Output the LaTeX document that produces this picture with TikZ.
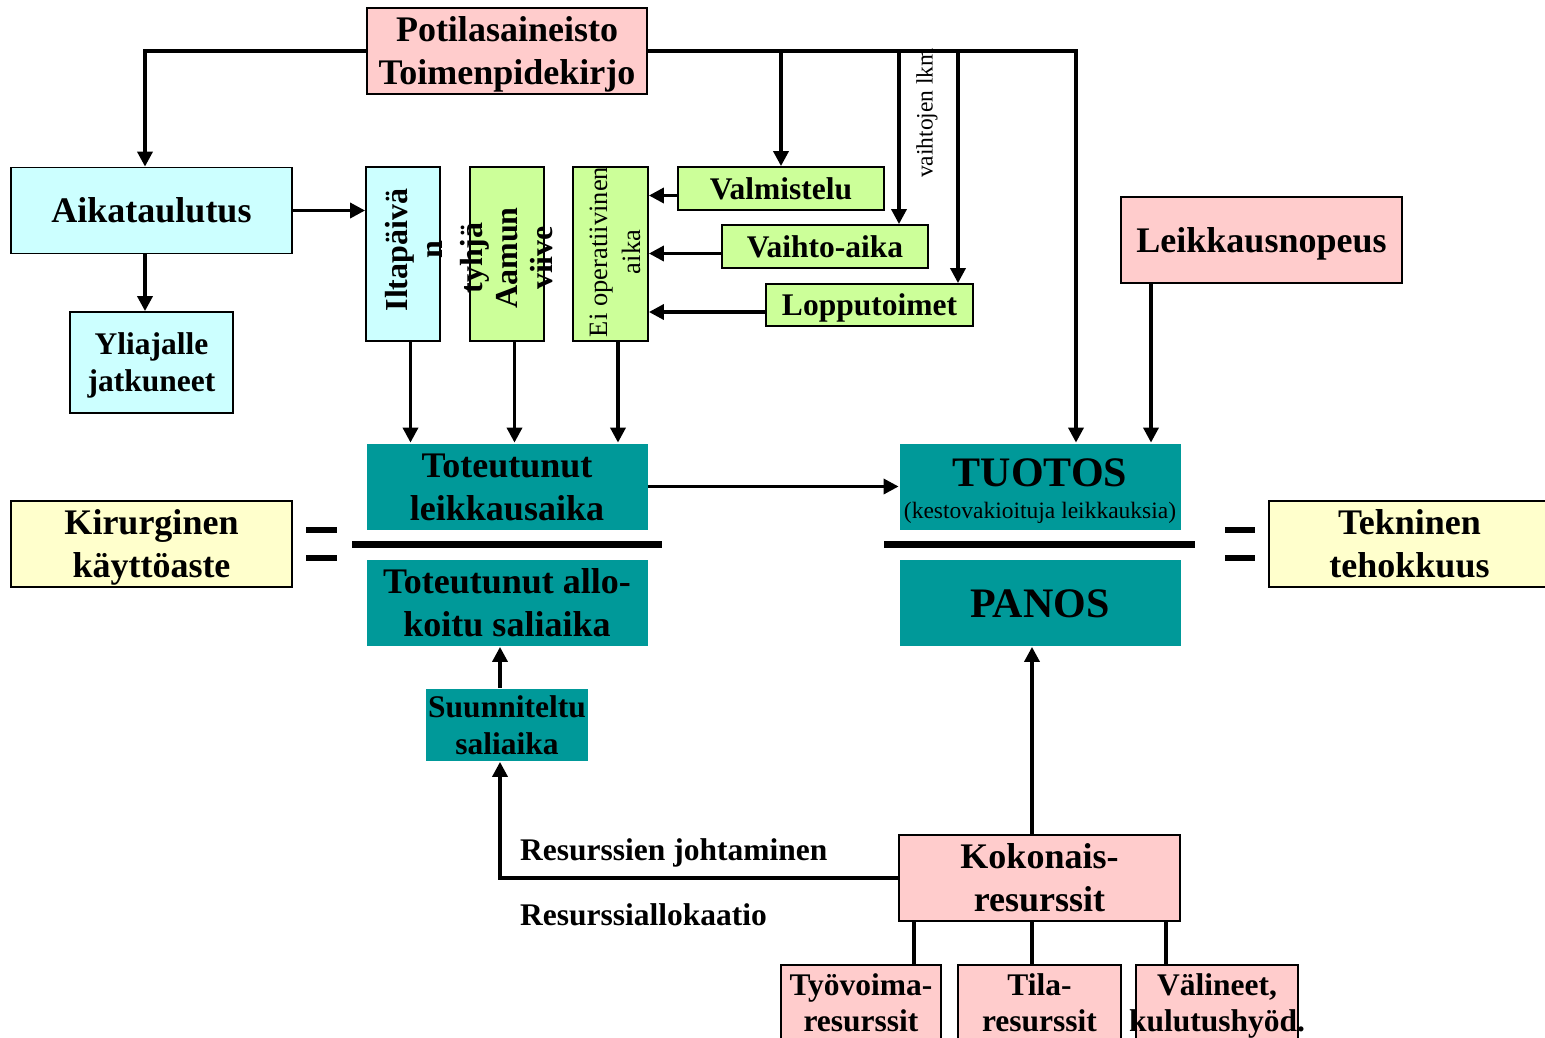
\documentclass[tikz,border=0pt]{standalone}
\usepackage{fontspec}
\setmainfont{Liberation Serif}
\usetikzlibrary{arrows.meta}
\definecolor{pinkfill}{HTML}{FFCCCC}
\definecolor{cyanfill}{HTML}{CCFFFF}
\definecolor{greenfill}{HTML}{CCFF99}
\definecolor{yellowfill}{HTML}{FFFFCC}
\definecolor{tealfill}{HTML}{009999}
% strut with the ascent and descent of the font
\newcommand\fs{\rule[-0.216em]{0pt}{1.107em}}
\begin{document}
\begin{tikzpicture}[x=1pt, y=-1pt,
  box/.style={draw=black, line width=1.8pt, inner sep=0pt, align=center,
    font=\bfseries\fontsize{36}{43}\selectfont},
  big/.style={minimum width=281pt, minimum height=86pt},
  smallfont/.style={font=\bfseries\fontsize{31.5}{37}\selectfont},
  tealbox/.style={box, draw=none, fill=tealfill},
  vtext/.style={rotate=90, align=center, inner sep=0pt},
  arr/.style={line width=3.5pt, -{Triangle[length=15pt,width=15pt]}},
  conn/.style={line width=3.5pt},
  bar/.style={line width=7pt}]
\useasboundingbox (0,0) rectangle (1545,1037);
% top sources
\node[box, fill=pinkfill, minimum width=280pt, minimum height=86pt] (pot) at (507,51) {\fs Potilasaineisto\\Toimenpidekirjo\fs};
\node[box, big, fill=cyanfill] (aika) at (151.5,210.5) {\fs Aikataulutus\fs};
\node[box, smallfont, fill=cyanfill, minimum width=163pt, minimum height=101pt] (yli) at (151.5,362.5) {\fs Yliajalle\\jatkuneet\fs};
\node[box, big, fill=pinkfill] (leiknop) at (1261.5,240) {\fs Leikkausnopeus\fs};
% vertical boxes
\node[box, fill=cyanfill, minimum width=74pt, minimum height=174pt] (ilta) at (403,254) {};
\node[box, fill=greenfill, minimum width=74pt, minimum height=174pt] (aamu) at (507,254) {};
\node[box, fill=greenfill, minimum width=75pt, minimum height=174pt] (eiop) at (610.5,254) {};
\node[vtext, font=\bfseries\fontsize{32}{35}\selectfont] (iltatxt) at (414,250) {Iltapäivä\\n};
\node[vtext, font=\bfseries\fontsize{32}{35}\selectfont] (aamutxt) at (507,258) {tyhjä\\Aamun\\viive};
\node[vtext, font=\fontsize{26.5}{33}\selectfont] (eioptxt) at (615,252) {Ei operatiivinen\\aika};
% green steps
\node[box, smallfont, fill=greenfill, minimum width=206pt, minimum height=43pt] (valm) at (781,188.5) {\fs Valmistelu\fs};
\node[box, smallfont, fill=greenfill, minimum width=206pt, minimum height=43pt] (vaihto) at (825,246.5) {\fs Vaihto-aika\fs};
\node[box, smallfont, fill=greenfill, minimum width=207pt, minimum height=42pt] (loppu) at (869.5,305) {\fs Lopputoimet\fs};
\node[vtext, font=\fontsize{23.5}{26}\selectfont] (vlkm) at (927,113) {vaihtojen lkm};
% ratios
\node[tealbox, big] (totleik) at (507,486.5) {\fs Toteutunut\\leikkausaika\fs};
\node[tealbox, big] (totallo) at (507,603) {\fs Toteutunut allo-\\koitu saliaika\fs};
\node[tealbox, big, font=\bfseries\fontsize{42}{32}\selectfont] (tuotos) at (1040,486.5) {\fs TUOTOS\\{\mdseries\fontsize{23.5}{32}\selectfont (kestovakioituja leikkauksia)}};
\node[tealbox, big, font=\bfseries\fontsize{42}{48}\selectfont] (panos) at (1040,603) {\fs PANOS\fs};
\node[box, big, fill=yellowfill] (kir) at (151.5,544) {\fs Kirurginen\\käyttöaste\fs};
\node[box, big, fill=yellowfill] (tek) at (1409.5,544) {\fs Tekninen\\tehokkuus\fs};
\draw[bar] (352,544) -- (662,544);
\draw[bar] (884,544) -- (1195,544);
\draw[line width=6pt] (306,530) -- (337,530) (306,558) -- (337,558);
\draw[line width=6pt] (1225,530) -- (1255,530) (1225,558) -- (1255,558);
% resources
\node[tealbox, smallfont, minimum width=162pt, minimum height=72pt] (suun) at (507,725) {\fs Suunniteltu\\saliaika\fs};
\node[box, big, fill=pinkfill] (koko) at (1039.5,878) {\fs Kokonais-\\resurssit\fs};
\node[box, font=\bfseries\fontsize{31.5}{34}\selectfont, fill=pinkfill, minimum width=160pt, minimum height=75pt] (tyo) at (861,1002.5) {\fs Työvoima-\\resurssit\fs};
\node[box, font=\bfseries\fontsize{31.5}{34}\selectfont, fill=pinkfill, minimum width=163pt, minimum height=75pt] (tila) at (1039.5,1002.5) {\fs Tila-\\resurssit\fs};
\node[box, font=\bfseries\fontsize{31.5}{34}\selectfont, fill=pinkfill, minimum width=162pt, minimum height=75pt] (vali) at (1217,1002.5) {\fs Välineet,\\\makebox[0pt]{kulutushyöd.}\fs};
\node[smallfont, anchor=base west, inner sep=0pt] (rjoht) at (520,860) {Resurssien johtaminen};
\node[smallfont, anchor=base west, inner sep=0pt] (ralloc) at (520,925) {Resurssiallokaatio};
% connectors
\coordinate (aikat) at ([xshift=-6.5pt]aika.north);
\coordinate (aikab) at ([xshift=-6.5pt]aika.south);
\coordinate (vtop) at ([xshift=74pt]vaihto.north);
\coordinate (ltop) at ([xshift=88.5pt]loppu.north);
\coordinate (tt1) at ([xshift=36pt]tuotos.north);
\coordinate (tt2) at ([xshift=111pt]tuotos.north);
\draw[arr] (pot.west) -| (aikat);
\draw[arr] (pot.east) -| (tt1);
\draw[arr] (pot.east -| valm.north) -- (valm.north);
\draw[arr] (pot.east -| vtop) -- (vtop);
\draw[arr] (pot.east -| ltop) -- (ltop);
\draw[arr] (aika.east) -- (aika.east -| ilta.west);
\draw[arr] (aikab) -- (aikab |- yli.north);
\foreach \s in {valm,vaihto,loppu}
  \draw[arr] ([yshift=-7pt]\s.west) -- ([yshift=-7pt]\s.west -| eiop.east);
\foreach \s in {ilta,aamu,eiop}
  \draw[arr] ([xshift=7.5pt]\s.south) -- ([xshift=7.5pt]\s.south |- totleik.north);
\draw[arr] (totleik.east) -- (tuotos.west);
\draw[arr] (leiknop.south -| tt2) -- (tt2);
\coordinate (suunt) at ([xshift=-7pt]suun.north);
\coordinate (suunb) at ([xshift=-7pt]suun.south);
\draw[arr] (suunt) -- (suunt |- totallo.south);
\draw[arr] (koko.west) -| (suunb);
\coordinate (kt) at ([xshift=-7.5pt]koko.north);
\draw[arr] (kt) -- (kt |- panos.south);
\coordinate (k1) at ([xshift=-125.5pt]koko.south);
\coordinate (k2) at ([xshift=-7.5pt]koko.south);
\coordinate (k3) at ([xshift=126.5pt]koko.south);
\draw[conn] (k1) -- (k1 |- tyo.north);
\draw[conn] (k2) -- (k2 |- tila.north);
\draw[conn] (k3) -- (k3 |- vali.north);
\end{tikzpicture}
\end{document}
